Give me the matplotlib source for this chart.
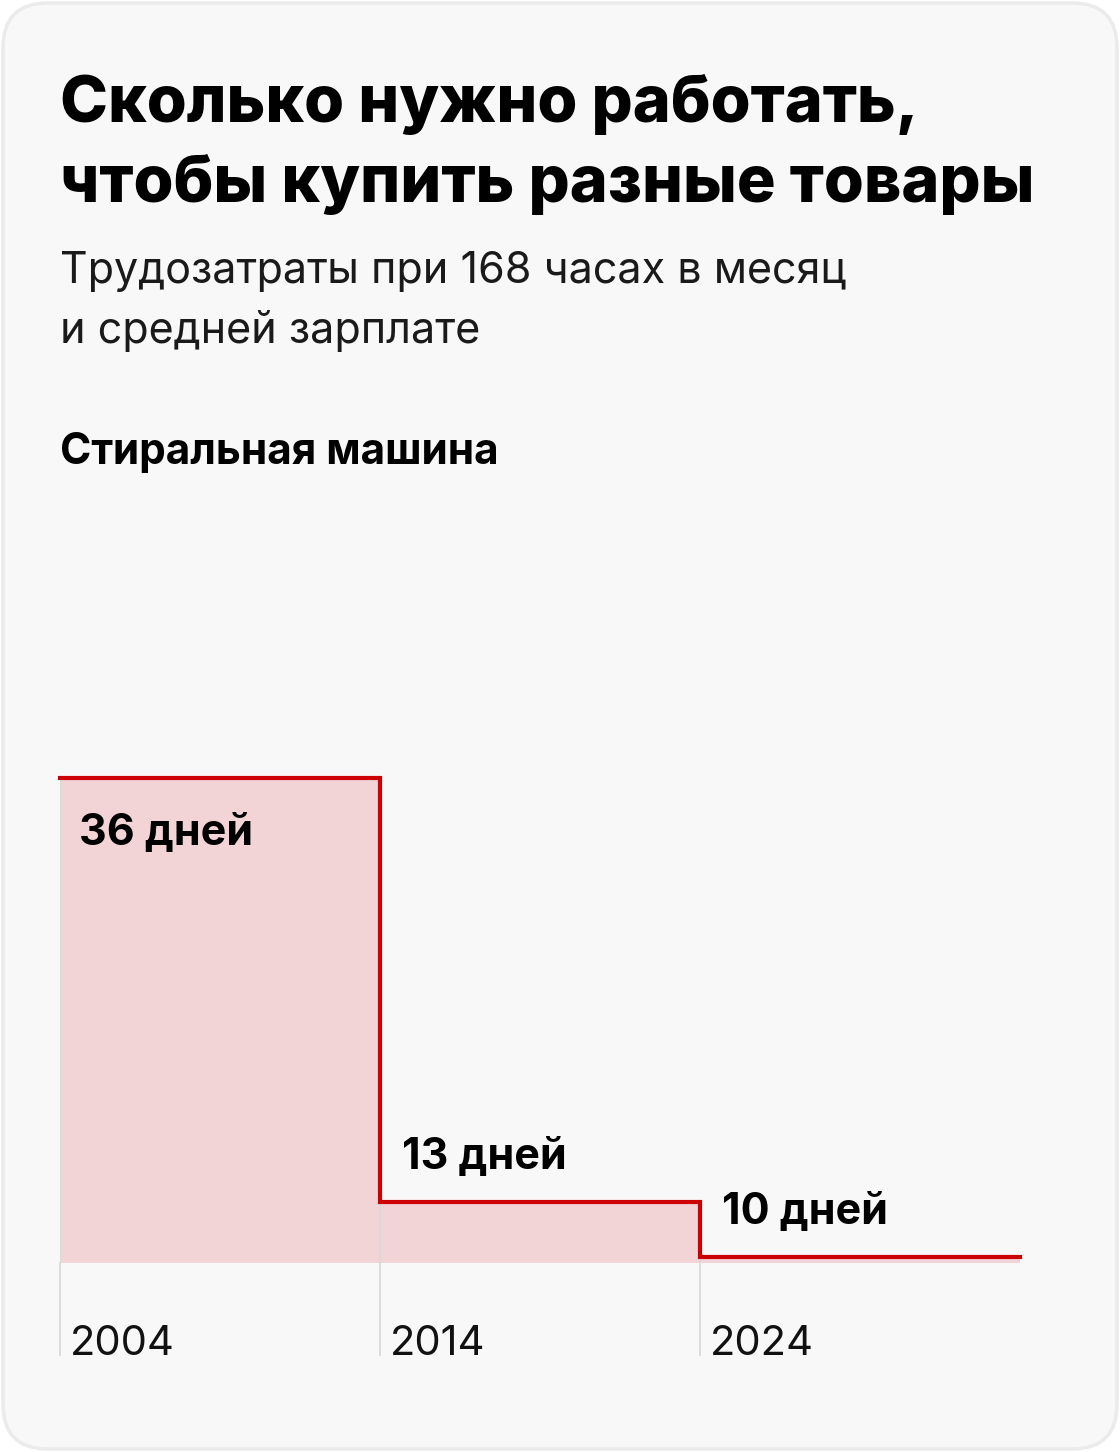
import matplotlib.pyplot as plt
from matplotlib.patches import FancyBboxPatch

years = ['2004', '2014', '2024']
days = [36, 13, 10]
labels = ['36 дней', '13 дней', '10 дней']

plt.rcParams['font.family'] = ['Inter', 'DejaVu Sans']

W, H = 1120, 1452
fig = plt.figure(figsize=(W / 100, H / 100), dpi=100, facecolor='white')

# card background
card = FancyBboxPatch((3 / W, 3 / H), (W - 6) / W, (H - 6) / H,
                      boxstyle='round,pad=0,rounding_size=0.04',
                      transform=fig.transFigure, facecolor='#f8f8f8',
                      edgecolor='#ebebeb', linewidth=2.5, mutation_aspect=W / H,
                      zorder=-10)
fig.patches.append(card)

# titles
fig.text(60 / W, 1 - 122 / H, 'Сколько нужно работать,', fontsize=46.5, fontweight='heavy',
         color='#000000', va='baseline')
fig.text(60 / W, 1 - 202 / H, 'чтобы купить разные товары', fontsize=46.5, fontweight='heavy',
         color='#000000', va='baseline')
fig.text(60 / W, 1 - 283 / H, 'Трудозатраты при 168 часах в месяц', fontsize=31,
         color='#1a1a1a', va='baseline')
fig.text(60 / W, 1 - 343 / H, 'и средней зарплате', fontsize=31,
         color='#1a1a1a', va='baseline')
fig.text(60 / W, 1 - 464 / H, 'Стиральная машина', fontsize=30.5, fontweight='bold',
         color='#000000', va='baseline')

# chart area: x 60..1020, y 778..1263
ax = fig.add_axes([60 / W, 1 - 1263 / H, 960 / W, 485 / H])
ax.set_facecolor('none')
n = len(days)
xs = list(range(n + 1))
ys = days + [days[-1]]
ymin = 9.7
ax.fill_between(xs, ys, ymin, step='post', color='#f2d4d6', linewidth=0, zorder=1)
ax.step(xs, ys, where='post', color='#cc0000', linewidth=3, solid_joinstyle='miter',
        zorder=3, clip_on=False)
ax.set_xlim(0, n)
ax.set_ylim(ymin, 36)

for i in range(n):
    # vertical guide from step top down below baseline
    ax.plot([i, i], [days[i], ymin], color='#d9d9d9', linewidth=1.3, zorder=2)
    ax.plot([i, i], [0, -92 / 485], color='#d9d9d9', linewidth=1.3,
            transform=ax.get_xaxis_transform(), clip_on=False, zorder=2)
    ax.annotate(years[i], xy=(i, 0), xycoords=('data', 'axes fraction'),
                xytext=(7, -66), textcoords='offset points', fontsize=30,
                color='#111111', va='baseline', ha='left')
    if i == 0:
        ax.annotate(labels[i], xy=(i, days[i]), xytext=(14, -48),
                    textcoords='offset points', fontsize=31, fontweight='bold',
                    va='baseline', ha='left', color='#000000', zorder=4)
    else:
        ax.annotate(labels[i], xy=(i, days[i]), xytext=(16, 24),
                    textcoords='offset points', fontsize=31, fontweight='bold',
                    va='baseline', ha='left', color='#000000', zorder=4)

ax.axis('off')

fig.savefig('out.png', dpi=100, facecolor=fig.get_facecolor())
